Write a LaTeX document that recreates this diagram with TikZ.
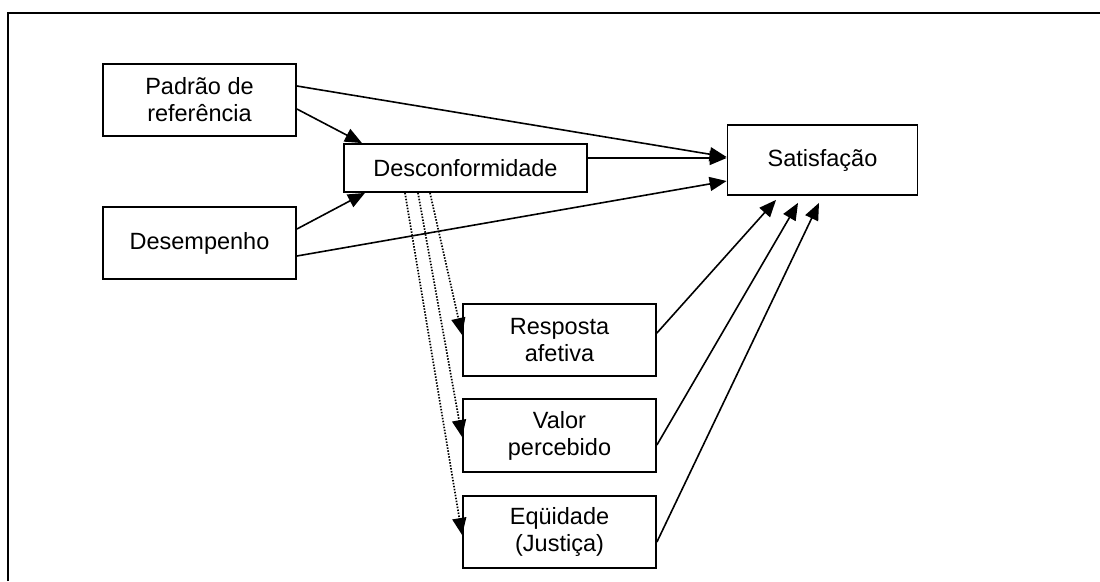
\documentclass[tikz,border=0pt]{standalone}
\usepackage{fontspec}
\setmainfont{Liberation Sans}
\usetikzlibrary{arrows.meta,calc}

\tikzset{
  box/.style={draw, line width=1.8pt, fill=white, align=center, inner sep=0pt,
    font=\fontsize{23.5}{27}\selectfont},
  link/.style={line width=1.6pt, -{Triangle[length=17pt,width=14pt]}},
  dotlink/.style={line width=1.7pt, dash pattern=on 1.5pt off 1.5pt,
    -{Triangle[length=17pt,width=14pt]}},
  frame/.style={line width=2.4pt}
}

\begin{document}
\begin{tikzpicture}[x=1pt,y=-1pt]
  \useasboundingbox (0,0) rectangle (1100,581);

  % open frame around the model
  \coordinate (fbl) at (8,581);
  \coordinate (ftl) at (8,13);
  \coordinate (ftr) at (1100,13);
  \draw[frame] (fbl) -- (ftl) -- (ftr);

  % antecedents
  \node[box, minimum width=193pt, minimum height=72pt] (pad) at (199.5,100) {Padrão de\\referência};
  \node[box, minimum width=193pt, minimum height=72pt] (des) at (199.5,243) {Desempenho};
  \node[box, minimum width=243pt, minimum height=48pt] (dsc) at (465.5,168) {Desconformidade};
  \node[box, minimum width=190pt, minimum height=70pt] (sat) at (822.5,160) {Satisfação};

  % mediators
  \node[box, minimum width=193pt, minimum height=72pt] (resp) at (559.5,340) {Resposta\\afetiva};
  \node[box, minimum width=193pt, minimum height=73pt] (val) at (559.5,435.5) {Valor\\percebido};
  \node[box, minimum width=193pt, minimum height=72pt] (eq) at (559.5,532) {Eqüidade\\(Justiça)};

  % direct effects
  \draw[link] ([yshift=14pt]pad.east) -- ([yshift=3pt]sat.west);
  \draw[link] ([yshift=-9pt]pad.east) -- ([xshift=-103.5pt]dsc.north);
  \draw[link] ([yshift=14pt]des.east) -- ([xshift=-100.5pt]dsc.south);
  \draw[link] ([yshift=-13pt]des.east) -- ([yshift=-21pt]sat.west);
  \draw[link] ([yshift=10pt]dsc.east) -- ([yshift=2pt]sat.west);

  % disconfirmation feeding the mediators
  \draw[dotlink] ([xshift=-35.5pt]dsc.south) -- ([yshift=5pt]resp.west);
  \draw[dotlink] ([xshift=-47.5pt]dsc.south) -- ([yshift=-1.5pt]val.west);
  \draw[dotlink] ([xshift=-60.5pt]dsc.south) -- ([yshift=-3pt]eq.west);

  % mediators into satisfaction
  \draw[link] ([yshift=7pt]resp.east) -- ([xshift=-46.5pt,yshift=-4pt]sat.south);
  \draw[link] ([yshift=-9.5pt]val.east) -- ([xshift=-24.5pt,yshift=-7pt]sat.south);
  \draw[link] ([yshift=-10pt]eq.east) -- ([xshift=-3.5pt,yshift=-7pt]sat.south);
\end{tikzpicture}
\end{document}
